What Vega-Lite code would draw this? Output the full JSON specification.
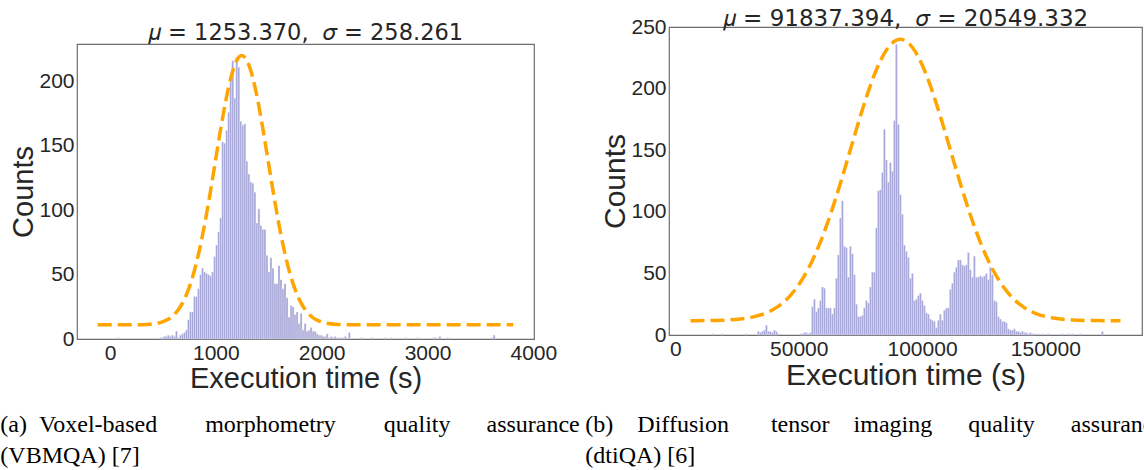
{
  "$schema": "https://vega.github.io/schema/vega-lite/v6.json",
  "padding": {"top": 6, "left": 0, "right": 0, "bottom": 0},
  "background": "white",
  "spacing": 5,
  "align": "none",
  "config": {
    "view": {"stroke": "#6e6e6e", "strokeWidth": 1.2},
    "axis": {"domain": false, "ticks": false, "grid": false, "labelFont": "Liberation Sans", "labelColor": "#262626", "labelFontSize": 21, "labelPadding": 3, "labelFlush": false, "titleFont": "Liberation Sans", "titleColor": "#262626", "titleFontWeight": "normal", "titlePadding": 0, "format": "d"},
    "axisX": {"titlePadding": 1},
    "title": {"font": "DejaVu Sans", "fontSize": 22.5, "fontWeight": "normal", "color": "#262626"}
  },
  "datasets": {
    "hist_a": [
      {"b":67,"e":86,"n":1},{"b":466,"e":485,"n":1},{"b":485,"e":504,"n":1},{"b":504,"e":523,"n":2},{"b":523,"e":542,"n":2},{"b":542,"e":561,"n":3},{"b":561,"e":580,"n":2},{"b":580,"e":599,"n":3},{"b":599,"e":618,"n":2},{"b":618,"e":637,"n":6},{"b":637,"e":656,"n":1},{"b":656,"e":675,"n":3},{"b":675,"e":694,"n":4},
      {"b":694,"e":713,"n":5},{"b":713,"e":732,"n":7},{"b":732,"e":751,"n":15},{"b":751,"e":770,"n":21},{"b":770,"e":789,"n":21},{"b":789,"e":808,"n":33},{"b":808,"e":827,"n":33},{"b":827,"e":846,"n":39},{"b":846,"e":865,"n":50},{"b":865,"e":884,"n":55},{"b":884,"e":903,"n":52},{"b":903,"e":922,"n":51},{"b":922,"e":941,"n":50},{"b":941,"e":960,"n":49},{"b":960,"e":979,"n":52},{"b":979,"e":998,"n":64},{"b":998,"e":1017,"n":73},{"b":1017,"e":1036,"n":83},{"b":1036,"e":1055,"n":94},{"b":1055,"e":1074,"n":153},{"b":1074,"e":1093,"n":152},{"b":1093,"e":1112,"n":162},{"b":1112,"e":1131,"n":176},{"b":1131,"e":1150,"n":200},{"b":1150,"e":1169,"n":216},{"b":1169,"e":1188,"n":187},{"b":1188,"e":1207,"n":219},{"b":1207,"e":1226,"n":211},{"b":1226,"e":1245,"n":169},{"b":1245,"e":1264,"n":166},{"b":1264,"e":1283,"n":167},{"b":1283,"e":1302,"n":138},{"b":1302,"e":1321,"n":128},{"b":1321,"e":1340,"n":122},{"b":1340,"e":1359,"n":121},{"b":1359,"e":1378,"n":114},{"b":1378,"e":1397,"n":90},{"b":1397,"e":1416,"n":101},{"b":1416,"e":1435,"n":88},{"b":1435,"e":1454,"n":85},{"b":1454,"e":1473,"n":85},{"b":1473,"e":1492,"n":65},{"b":1492,"e":1511,"n":52},{"b":1511,"e":1530,"n":63},{"b":1530,"e":1549,"n":55},{"b":1549,"e":1568,"n":43},{"b":1568,"e":1587,"n":43},{"b":1587,"e":1606,"n":57},{"b":1606,"e":1625,"n":46},{"b":1625,"e":1644,"n":39},{"b":1644,"e":1663,"n":43},{"b":1663,"e":1682,"n":32},{"b":1682,"e":1701,"n":17},{"b":1701,"e":1720,"n":26},{"b":1720,"e":1739,"n":25},{"b":1739,"e":1758,"n":19},{"b":1758,"e":1777,"n":21},{"b":1777,"e":1796,"n":12},{"b":1796,"e":1815,"n":20},{"b":1815,"e":1834,"n":7},{"b":1834,"e":1853,"n":12},{"b":1853,"e":1872,"n":6},{"b":1872,"e":1891,"n":7},{"b":1891,"e":1910,"n":9},{"b":1910,"e":1929,"n":6},{"b":1929,"e":1948,"n":6},{"b":1948,"e":1967,"n":4},{"b":1967,"e":1986,"n":3},{"b":1986,"e":2005,"n":3},{"b":2005,"e":2024,"n":2},{"b":2024,"e":2043,"n":2},{"b":2043,"e":2062,"n":4},{"b":2062,"e":2081,"n":1},{"b":2081,"e":2100,"n":2},{"b":2100,"e":2119,"n":1},{"b":2119,"e":2138,"n":2},{"b":2138,"e":2157,"n":1},{"b":2157,"e":2176,"n":1},{"b":2176,"e":2195,"n":1},{"b":2195,"e":2214,"n":1},{"b":2214,"e":2233,"n":2},{"b":2252,"e":2271,"n":5},{"b":2366,"e":2385,"n":1},{"b":2461,"e":2480,"n":1},{"b":2594,"e":2613,"n":1},{"b":2651,"e":2670,"n":1},{"b":2784,"e":2803,"n":1},{"b":2898,"e":2917,"n":1},{"b":3050,"e":3069,"n":1},{"b":3069,"e":3088,"n":1},{"b":3107,"e":3126,"n":2},{"b":3183,"e":3202,"n":1},{"b":3601,"e":3620,"n":1},{"b":3620,"e":3639,"n":3}
    ],
    "fit_a": [
      {"x":-116,"y":11.0},{"x":245,"y":11.07},{"x":345,"y":11.3},{"x":445,"y":12.2},{"x":495,"y":13.3},{"x":545,"y":15.1},{"x":595,"y":18.1},{"x":645,"y":22.7},{"x":695,"y":29.6},{"x":745,"y":39.3},{"x":795,"y":52.4},{"x":845,"y":69.1},{"x":895,"y":89.4},{"x":945,"y":112.7},{"x":995,"y":137.8},{"x":1045,"y":162.8},{"x":1095,"y":185.6},{"x":1145,"y":203.9},{"x":1195,"y":215.9},{"x":1245,"y":220},{"x":1295,"y":215.9},{"x":1345,"y":203.9},{"x":1395,"y":185.6},{"x":1445,"y":162.8},{"x":1495,"y":137.8},{"x":1545,"y":112.7},{"x":1595,"y":89.4},{"x":1645,"y":69.1},{"x":1695,"y":52.4},{"x":1745,"y":39.3},{"x":1795,"y":29.6},{"x":1845,"y":22.7},{"x":1895,"y":18.1},{"x":1945,"y":15.1},{"x":1995,"y":13.3},{"x":2045,"y":12.2},{"x":2145,"y":11.3},{"x":2245,"y":11.07},{"x":2445,"y":11.0},{"x":3810,"y":11.0}
    ],
    "hist_b": [
      {"b":14590,"e":15401,"n":1},{"b":18645,"e":19456,"n":1},{"b":28377,"e":29188,"n":1},{"b":33243,"e":34054,"n":3},{"b":34054,"e":34865,"n":2},{"b":34865,"e":35676,"n":3},{"b":35676,"e":36487,"n":4},{"b":36487,"e":37298,"n":8},{"b":37298,"e":38109,"n":3},{"b":38109,"e":38920,"n":3},{"b":38920,"e":39731,"n":2},{"b":39731,"e":40542,"n":4},{"b":40542,"e":41353,"n":3},{"b":41353,"e":42164,"n":1},
      {"b":50274,"e":51085,"n":1},{"b":51085,"e":51896,"n":1},{"b":51896,"e":52707,"n":2},{"b":52707,"e":53518,"n":2},{"b":53518,"e":54329,"n":1},{"b":54329,"e":55140,"n":2},
      {"b":55140,"e":55951,"n":23},{"b":55951,"e":56762,"n":29},{"b":56762,"e":57573,"n":19},{"b":57573,"e":58384,"n":22},{"b":58384,"e":59195,"n":28},{"b":59195,"e":60006,"n":39},{"b":60006,"e":60817,"n":38},{"b":60817,"e":61628,"n":22},{"b":61628,"e":62439,"n":22},{"b":62439,"e":63250,"n":22},{"b":63250,"e":64061,"n":17},{"b":64061,"e":64872,"n":22},{"b":64872,"e":65683,"n":46},{"b":65683,"e":66494,"n":65},{"b":66494,"e":67305,"n":95},{"b":67305,"e":68116,"n":109},{"b":68116,"e":68927,"n":72},{"b":68927,"e":69738,"n":71},{"b":69738,"e":70549,"n":47},{"b":70549,"e":71360,"n":72},{"b":71360,"e":72171,"n":66},{"b":72171,"e":72982,"n":49},{"b":72982,"e":73793,"n":25},{"b":73793,"e":74604,"n":15},{"b":74604,"e":75415,"n":15},{"b":75415,"e":76226,"n":16},{"b":76226,"e":77037,"n":22},{"b":77037,"e":77848,"n":28},{"b":77848,"e":78659,"n":26},{"b":78659,"e":79470,"n":39},{"b":79470,"e":80281,"n":51},{"b":80281,"e":81092,"n":51},{"b":81092,"e":81903,"n":87},{"b":81903,"e":82714,"n":117},{"b":82714,"e":83525,"n":118},{"b":83525,"e":84336,"n":132},{"b":84336,"e":85147,"n":167},{"b":85147,"e":85958,"n":142},{"b":85958,"e":86769,"n":124},{"b":86769,"e":87580,"n":140},{"b":87580,"e":88391,"n":133},{"b":88391,"e":89202,"n":174},{"b":89202,"e":90013,"n":236},{"b":90013,"e":90824,"n":171},{"b":90824,"e":91635,"n":114},{"b":91635,"e":92446,"n":98},{"b":92446,"e":93257,"n":73},{"b":93257,"e":94068,"n":68},{"b":94068,"e":94879,"n":63},{"b":94879,"e":95690,"n":46},{"b":95690,"e":96501,"n":50},{"b":96501,"e":97312,"n":28},{"b":97312,"e":98123,"n":29},{"b":98123,"e":98934,"n":32},{"b":98934,"e":99745,"n":34},{"b":99745,"e":100556,"n":28},{"b":100556,"e":101367,"n":24},{"b":101367,"e":102178,"n":18},{"b":102178,"e":102989,"n":17},{"b":102989,"e":103800,"n":13},{"b":103800,"e":104611,"n":12},{"b":104611,"e":105422,"n":11},{"b":105422,"e":106233,"n":6},{"b":106233,"e":107044,"n":12},{"b":107044,"e":107855,"n":17},{"b":107855,"e":108666,"n":12},{"b":108666,"e":109477,"n":20},{"b":109477,"e":110288,"n":22},{"b":110288,"e":111099,"n":22},{"b":111099,"e":111910,"n":37},{"b":111910,"e":112721,"n":42},{"b":112721,"e":113532,"n":51},{"b":113532,"e":114343,"n":55},{"b":114343,"e":115154,"n":61},{"b":115154,"e":115965,"n":61},{"b":115965,"e":116776,"n":57},{"b":116776,"e":117587,"n":56},{"b":117587,"e":118398,"n":57},{"b":118398,"e":119209,"n":67},{"b":119209,"e":120020,"n":53},{"b":120020,"e":120831,"n":47},{"b":120831,"e":121642,"n":64},{"b":121642,"e":122453,"n":47},{"b":122453,"e":123264,"n":47},{"b":123264,"e":124075,"n":48},{"b":124075,"e":124886,"n":47},{"b":124886,"e":125697,"n":48},{"b":125697,"e":126508,"n":50},{"b":126508,"e":127319,"n":45},{"b":127319,"e":128130,"n":55},{"b":128130,"e":128941,"n":49},{"b":128941,"e":129752,"n":28},{"b":129752,"e":130563,"n":27},{"b":130563,"e":131374,"n":15},{"b":131374,"e":132185,"n":13},{"b":132185,"e":132996,"n":11},{"b":132996,"e":133807,"n":11},{"b":133807,"e":134618,"n":10},{"b":134618,"e":135429,"n":5},{"b":135429,"e":136240,"n":4},{"b":136240,"e":137051,"n":4},{"b":137051,"e":137862,"n":5},{"b":137862,"e":138673,"n":3},{"b":138673,"e":139484,"n":3},{"b":139484,"e":140295,"n":2},{"b":140295,"e":141106,"n":3},{"b":141106,"e":141917,"n":2},{"b":141917,"e":142728,"n":2},{"b":142728,"e":143539,"n":1},{"b":143539,"e":144350,"n":2},{"b":144350,"e":145161,"n":1},{"b":145161,"e":145972,"n":1},{"b":146783,"e":147594,"n":1},{"b":148405,"e":149216,"n":1},{"b":150838,"e":151649,"n":1},{"b":156515,"e":157326,"n":1},{"b":158948,"e":159759,"n":1},{"b":160570,"e":161381,"n":1},{"b":163814,"e":164625,"n":1},{"b":172735,"e":173546,"n":3}
    ],
    "fit_b": [
      {"x":6100,"y":11.6},{"x":11200,"y":11.7},{"x":16200,"y":11.85},{"x":21200,"y":12.2},{"x":26200,"y":13.0},{"x":31200,"y":14.5},{"x":36200,"y":17.4},{"x":41200,"y":22.6},{"x":46200,"y":31.2},{"x":51200,"y":44.4},{"x":56200,"y":63.3},{"x":61200,"y":88.3},{"x":66200,"y":118.6},{"x":71200,"y":152.2},{"x":76200,"y":185.4},{"x":81200,"y":213.9},{"x":86200,"y":233.2},{"x":91200,"y":240},{"x":96200,"y":233.2},{"x":101200,"y":213.9},{"x":106200,"y":185.4},{"x":111200,"y":152.2},{"x":116200,"y":118.6},{"x":121200,"y":88.3},{"x":126200,"y":63.3},{"x":131200,"y":44.4},{"x":136200,"y":31.2},{"x":141200,"y":22.6},{"x":146200,"y":17.4},{"x":151200,"y":14.5},{"x":156200,"y":13.0},{"x":161200,"y":12.2},{"x":166200,"y":11.85},{"x":171200,"y":11.7},{"x":180500,"y":11.6}
    ]
  },
  "hconcat": [
    {
      "title": {"text": ["(a)\u00a0\u00a0Voxel-based\u00a0\u00a0\u00a0\u00a0\u00a0\u00a0\u00a0\u00a0morphometry\u00a0\u00a0\u00a0\u00a0\u00a0\u00a0\u00a0\u00a0quality\u00a0\u00a0\u00a0\u00a0\u00a0\u00a0assurance", "(VBMQA) [7]"], "orient": "bottom", "anchor": "start", "frame": "bounds", "font": "Liberation Serif", "fontSize": 24, "fontWeight": "normal", "color": "#000000", "lineHeight": 31, "offset": 19, "dx": -9},
      "spacing": -3,
      "vconcat": [
        {
          "title": {"text": "𝜇 = 1253.370,\u00a0 𝜎 = 258.261", "offset": -17},
          "width": 457,
          "height": 1,
          "view": {"stroke": null},
          "data": {"values": []},
          "mark": {"type": "rule", "opacity": 0},
          "encoding": {}
        },
        {
          "width": 457,
          "height": 295,
          "layer": [
            {
              "data": {"name": "hist_a"},
              "mark": {"type": "bar", "color": "#a5a5d8", "stroke": "#ffffff", "strokeWidth": 0.3},
              "encoding": {
                "x": {"field": "b", "type": "quantitative", "scale": {"domain": [-312, 4006], "nice": false, "zero": false}, "axis": {"values": [0, 1000, 2000, 3000, 4000], "title": "Execution time (s)", "titleFontSize": 29}},
                "x2": {"field": "e"},
                "y": {"field": "n", "type": "quantitative", "scale": {"domain": [0, 229], "nice": false}, "axis": {"values": [0, 50, 100, 150, 200], "title": "Counts", "titleFontSize": 29}},
                "y2": {"datum": 0}
              }
            },
            {
              "data": {"name": "fit_a"},
              "mark": {"type": "line", "color": "#ffa500", "strokeWidth": 3.5, "strokeDash": [14, 6], "interpolate": "monotone"},
              "encoding": {
                "x": {"field": "x", "type": "quantitative"},
                "y": {"field": "y", "type": "quantitative"}
              }
            }
          ]
        }
      ]
    },
    {
      "title": {"text": ["(b)\u00a0\u00a0\u00a0\u00a0Diffusion\u00a0\u00a0\u00a0\u00a0\u00a0\u00a0\u00a0tensor\u00a0\u00a0\u00a0\u00a0imaging\u00a0\u00a0\u00a0\u00a0\u00a0\u00a0quality\u00a0\u00a0\u00a0\u00a0\u00a0\u00a0assurance", "(dtiQA) [6]"], "orient": "bottom", "anchor": "start", "frame": "bounds", "font": "Liberation Serif", "fontSize": 24, "fontWeight": "normal", "color": "#000000", "lineHeight": 31, "offset": 22, "dx": -15},
      "vconcat": [
        {
          "title": {"text": "𝜇 = 91837.394,\u00a0 𝜎 = 20549.332", "offset": -14.5, "fontSize": 23},
          "width": 473,
          "height": 308,
          "layer": [
            {
              "data": {"name": "hist_b"},
              "mark": {"type": "bar", "color": "#a5a5d8", "stroke": "#ffffff", "strokeWidth": 0.3},
              "encoding": {
                "x": {"field": "b", "type": "quantitative", "scale": {"domain": [-2620, 189220], "nice": false, "zero": false}, "axis": {"values": [0, 50000, 100000, 150000], "title": "Execution time (s)", "titleFontSize": 30}},
                "x2": {"field": "e"},
                "y": {"field": "n", "type": "quantitative", "scale": {"domain": [0, 250], "nice": false}, "axis": {"values": [0, 50, 100, 150, 200, 250], "title": "Counts", "titleFontSize": 30}},
                "y2": {"datum": 0}
              }
            },
            {
              "data": {"name": "fit_b"},
              "mark": {"type": "line", "color": "#ffa500", "strokeWidth": 3.5, "strokeDash": [14, 6], "interpolate": "monotone"},
              "encoding": {
                "x": {"field": "x", "type": "quantitative"},
                "y": {"field": "y", "type": "quantitative"}
              }
            }
          ]
        }
      ]
    }
  ]
}
